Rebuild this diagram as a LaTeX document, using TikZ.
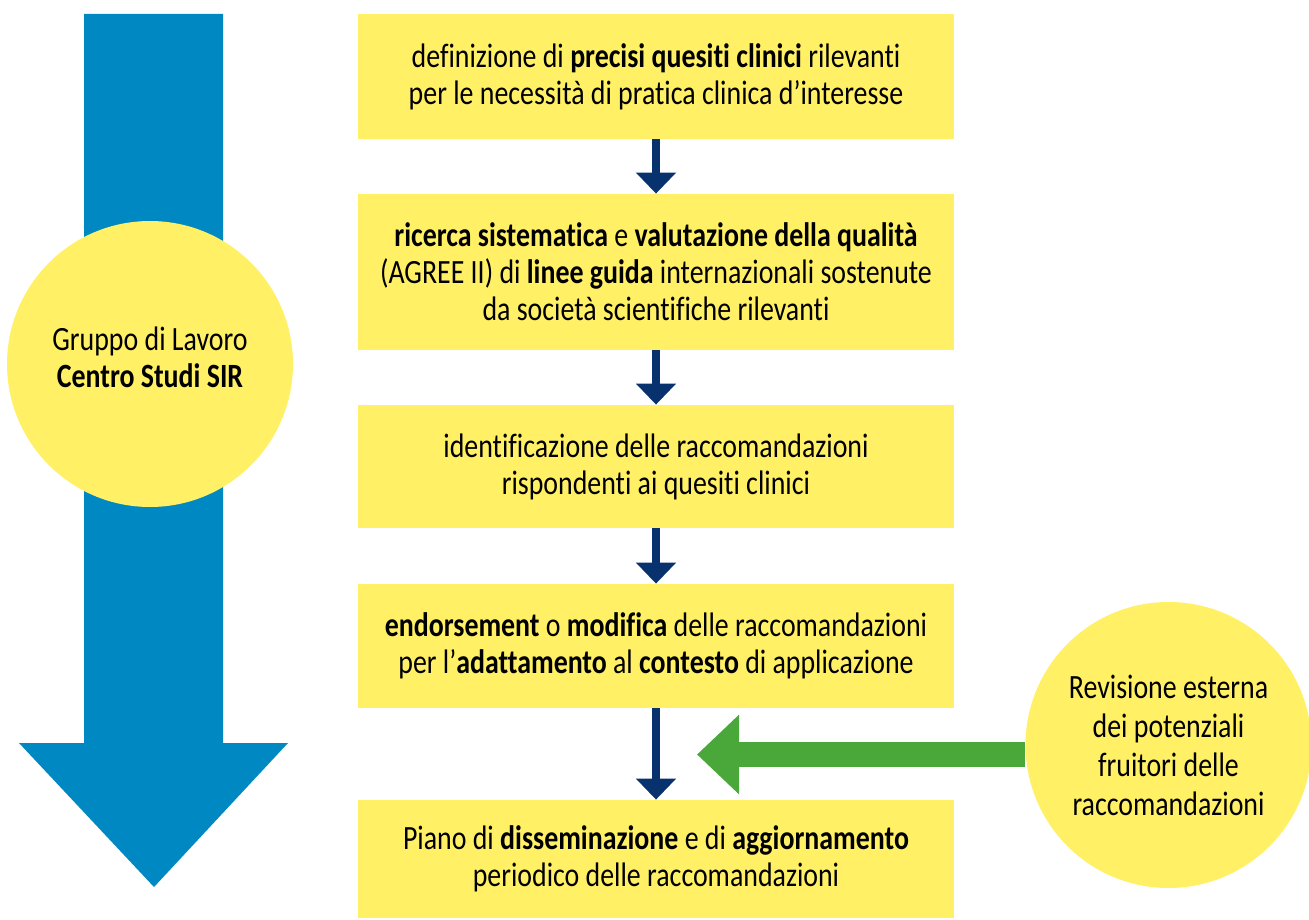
\documentclass[tikz,border=0pt]{standalone}
\usepackage{fontspec}
\setmainfont{Carlito}[FakeStretch=0.82, Ligatures=NoCommon]
\usetikzlibrary{arrows.meta}

\definecolor{boxyellow}{HTML}{FFF066}
\definecolor{flowblue}{HTML}{0088C2}
\definecolor{stepnavy}{HTML}{08326E}
\definecolor{reviewgreen}{HTML}{4AA83A}

\begin{document}
\begin{tikzpicture}[x=0.5pt, y=-0.5pt,
  stepbox/.style={fill=boxyellow, inner sep=0pt, minimum width=298pt,
    align=center, text=black, font=\fontsize{17pt}{18.5pt}\selectfont},
  bubble/.style={circle, fill=boxyellow, inner sep=0pt, minimum size=143pt},
  bubbletext/.style={align=center, text=black, font=\fontsize{17pt}{18.5pt}\selectfont},
  nextarrow/.style={draw=stepnavy, line width=4pt, -{Triangle[width=19.5pt, length=10.5pt]}},
  reviewarrow/.style={draw=reviewgreen, line width=12.5pt, -{Triangle[width=38.5pt, length=21pt]}}
]
  \useasboundingbox (0,0) rectangle (1309,919);

  % Define the centre line of the steps
  \def\stepx{656}

  % Draw the big arrow on the left
  \fill[flowblue] (84,14) -- (223,14) -- (223,743) -- (288,743)
    -- (154,887) -- (19,743) -- (84,743) -- cycle;

  % Draw the working group
  \node[bubble] (team) at (150,364) {};
  \node[bubbletext] (teamtext) at (150,357)
    {Gruppo di Lavoro\\\textbf{Centro Studi SIR}};

  % Draw the steps
  \node[stepbox, minimum height=62.5pt] (S1) at (\stepx,76.5)
    {definizione di \textbf{precisi quesiti clinici} rilevanti\\
     per le necessità di pratica clinica d’interesse};
  \node[stepbox, minimum height=78pt] (S2) at (\stepx,272)
    {\textbf{ricerca sistematica} e \textbf{valutazione della qualità}\\
     (AGREE II) di \textbf{linee guida} internazionali sostenute\\
     da società scientifiche rilevanti};
  \node[stepbox, minimum height=61.5pt] (S3) at (\stepx,466.5)
    {identificazione delle raccomandazioni\\
     rispondenti ai quesiti clinici};
  \node[stepbox, minimum height=62pt] (S4) at (\stepx,646)
    {\textbf{endorsement} o \textbf{modifica} delle raccomandazioni\\
     per l’\textbf{adattamento} al \textbf{contesto} di applicazione};
  \node[stepbox, minimum height=59pt] (S5) at (\stepx,859)
    {Piano di \textbf{disseminazione} e di \textbf{aggiornamento}\\
     periodico delle raccomandazioni};

  % Draw the arrows between the steps
  \foreach \i in {1,...,4} {
    \pgfmathtruncatemacro{\j}{\i+1}
    \draw[nextarrow] (S\i.south) -- (S\j.north);
  }

  % Draw the external review
  \node[bubble, bubbletext, font=\fontsize{17pt}{19.5pt}\selectfont] (review) at (1168.5,745)
    {Revisione esterna\\dei potenziali\\fruitori delle\\raccomandazioni};
  \coordinate (revtip) at (697,754.5);
  \draw[reviewarrow] (review.west |- revtip) -- (revtip);

\end{tikzpicture}
\end{document}
